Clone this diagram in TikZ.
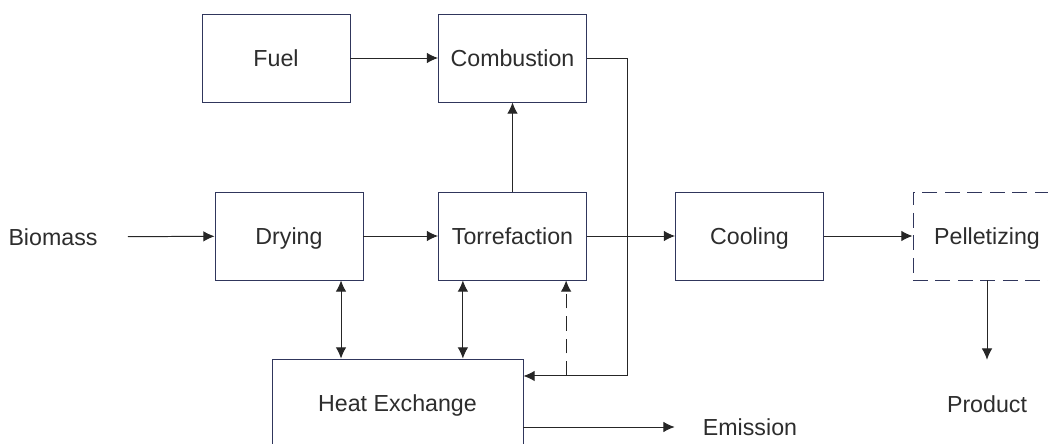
\documentclass[tikz,border=0pt]{standalone}
\usepackage{fontspec}
\setmainfont{Liberation Sans}
\usepackage{tikz}
\usetikzlibrary{arrows.meta,positioning}
\definecolor{boxcol}{RGB}{48,54,92}
\definecolor{linecol}{RGB}{38,38,38}
\definecolor{txtcol}{RGB}{45,45,45}

\begin{document}
\begin{tikzpicture}[x=0.025cm,y=-0.025cm,>={Latex[length=8pt,width=7.5pt]},
  unit/.style={draw=boxcol,line width=0.6pt,minimum width=3.7cm,minimum height=2.2cm,
  fill=white,text=txtcol,font=\fontsize{16.5}{20}\selectfont,text height=13pt,text depth=1.2pt},
  ext/.style={inner sep=0pt,text=txtcol,font=\fontsize{16.5}{20}\selectfont,
  text height=13pt,text depth=1.2pt},
  flow/.style={->,line width=0.7pt,draw=linecol},
  loose/.style={dash pattern=on 10.5pt off 5.5pt}]
  \useasboundingbox (0,0) rectangle (1048,444);
  \clip (0,0) rectangle (1048,444);
  \node[unit] (fuel) at (276,58) {Fuel};
  \node[unit] (combustion) at (512.5,58) {Combustion};
  \node[unit] (drying) at (289,236) {Drying};
  \node[unit] (torrefaction) at (512.5,236) {Torrefaction};
  \node[unit] (cooling) at (749.5,236) {Cooling};
  \node[unit,loose] (pelletizing) at (987,236) {Pelletizing};
  \node[unit,minimum width=6.275cm] (heatex) at (397.5,403) {Heat Exchange};
  \node[ext] (biomass) at (53,237) {Biomass};
  \node[ext] (product) at (987,404) {Product};
  \node[ext] (emission) at (750,427) {Emission};
  \coordinate (hxin) at ([yshift=0.675cm]heatex.east);
  \coordinate (dryport) at ([xshift=1.3cm]drying.south);
  \coordinate (torrport) at ([xshift=-1.24cm]torrefaction.south);
  \coordinate (bypass) at ([xshift=1.34cm]torrefaction.south);
  \draw[flow,shorten <=0.75cm] (biomass) -- (drying);
  \draw[flow] (drying) -- (torrefaction);
  \draw[flow] (torrefaction) -- (cooling);
  \draw[flow] (cooling) -- (pelletizing);
  \draw[flow] (fuel) -- (combustion);
  \draw[flow] (torrefaction) -- (combustion);
  \draw[flow] (combustion.east) -- ++(41,0) |- (hxin);
  \draw[flow,loose] (bypass |- hxin) -- (bypass);
  \draw[flow,<->] (dryport) -- (dryport |- heatex.north);
  \draw[flow,<->] (torrport) -- (torrport |- heatex.north);
  \draw[flow,shorten >=0.7cm] (heatex.east |- emission) -- (emission.west);
  \draw[flow,shorten >=0.85cm] (pelletizing) -- (product);
\end{tikzpicture}
\end{document}
